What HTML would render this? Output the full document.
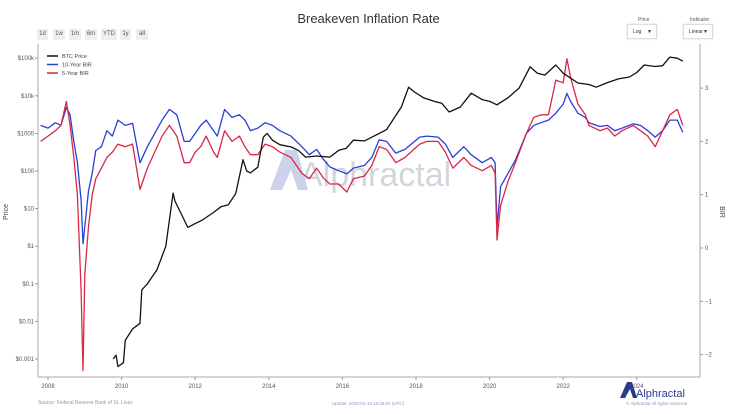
<!DOCTYPE html>
<html><head><meta charset="utf-8"><style>
body{margin:0;background:#fff;font-family:"Liberation Sans",sans-serif;}
#wrap{position:relative;width:737px;height:414px;overflow:hidden;background:#fff}
.btn{position:absolute;top:29px;height:11px;background:#eee;font-size:6px;color:#555;line-height:11px;text-align:center;border-radius:1px}
.sel{position:absolute;top:24px;width:30px;height:15px;border:1px solid #ddd;font-size:5px;line-height:15px;padding-left:5px;box-sizing:border-box;color:#333;box-shadow:0 0 2px #ddd}
.lab{position:absolute;font-size:5px;color:#555}
</style></head><body>
<div id="wrap">
<div style="position:absolute;left:0;width:737px;top:11px;text-align:center;font-size:13px;color:#333">Breakeven Inflation Rate</div>
<div class="btn" style="left:37px;width:11px">1d</div>
<div class="btn" style="left:53px;width:12px">1w</div>
<div class="btn" style="left:69px;width:12px">1m</div>
<div class="btn" style="left:85px;width:12px">6m</div>
<div class="btn" style="left:101px;width:16px">YTD</div>
<div class="btn" style="left:120px;width:11px">1y</div>
<div class="btn" style="left:136px;width:12px">all</div>
<div class="lab" style="left:638px;top:17px">Price</div>
<div class="sel" style="left:627px;">Log<span style="float:right;margin-right:4px">▼</span></div>
<div class="lab" style="left:690px;top:17px">Indicator</div>
<div class="sel" style="left:683px;">Linear<span style="float:right;margin-right:4px">▼</span></div>
<svg id="svg" width="737" height="414" style="position:absolute;left:0;top:0"></svg>
</div>
<script>
const btcYears=[2009.77,2009.85,2009.9,2010.05,2010.1,2010.3,2010.5,2010.55,2010.7,2010.96,2011.05,2011.2,2011.4,2011.45,2011.6,2011.8,2012.0,2012.2,2012.5,2012.7,2012.9,2013.1,2013.3,2013.4,2013.5,2013.7,2013.85,2013.95,2014.1,2014.3,2014.6,2014.8,2015.0,2015.3,2015.66,2015.9,2016.1,2016.3,2016.6,2016.9,2017.2,2017.4,2017.6,2017.8,2017.96,2018.2,2018.5,2018.7,2018.9,2019.2,2019.5,2019.8,2020.0,2020.2,2020.5,2020.8,2021.1,2021.3,2021.5,2021.8,2022.0,2022.4,2022.7,2022.9,2023.2,2023.5,2023.8,2024.0,2024.2,2024.5,2024.7,2024.9,2025.1,2025.25];
const btcPrice=[-3.0,-2.9,-3.2,-3.1,-2.5,-2.2,-2.05,-1.16,-1.0,-0.63,-0.4,0.0,1.41,1.2,0.9,0.5,0.6,0.7,0.9,1.05,1.1,1.4,2.3,2.0,1.95,2.1,2.9,3.0,2.82,2.7,2.64,2.55,2.37,2.4,2.37,2.55,2.6,2.82,2.8,2.95,3.1,3.4,3.7,4.23,4.1,3.95,3.85,3.8,3.57,3.7,4.07,3.9,3.85,3.76,3.95,4.2,4.77,4.6,4.55,4.82,4.6,4.34,4.3,4.23,4.35,4.45,4.5,4.62,4.82,4.78,4.8,5.03,5.0,4.92];
const birYears=[2007.8,2008.0,2008.2,2008.35,2008.5,2008.6,2008.7,2008.8,2008.9,2008.95,2009.0,2009.1,2009.2,2009.3,2009.45,2009.6,2009.75,2009.9,2010.1,2010.3,2010.5,2010.7,2010.9,2011.1,2011.3,2011.5,2011.7,2011.85,2012.0,2012.15,2012.3,2012.5,2012.6,2012.8,2013.0,2013.2,2013.35,2013.5,2013.7,2013.9,2014.1,2014.3,2014.6,2014.9,2015.1,2015.3,2015.5,2015.66,2015.9,2016.12,2016.3,2016.6,2016.8,2017.0,2017.2,2017.45,2017.7,2018.1,2018.3,2018.6,2018.8,2019.0,2019.3,2019.5,2019.8,2020.05,2020.15,2020.2,2020.3,2020.5,2020.7,2021.0,2021.2,2021.4,2021.6,2021.8,2022.0,2022.1,2022.2,2022.4,2022.6,2022.7,2023.0,2023.2,2023.4,2023.6,2023.9,2024.1,2024.3,2024.5,2024.7,2024.9,2025.1,2025.25];
const bir10=[2.3,2.25,2.35,2.3,2.64,2.5,2.0,1.6,0.9,0.08,0.4,1.07,1.4,1.83,1.9,2.2,2.1,2.4,2.3,2.34,1.6,1.9,2.15,2.4,2.6,2.5,2.0,2.0,2.15,2.3,2.4,2.2,2.1,2.6,2.45,2.5,2.4,2.2,2.25,2.35,2.3,2.2,2.1,1.9,1.75,1.85,1.65,1.52,1.45,1.39,1.5,1.55,1.7,2.03,2.0,1.78,1.85,2.08,2.1,2.08,1.95,1.7,1.9,1.75,1.6,1.7,1.6,0.4,1.15,1.4,1.65,2.15,2.3,2.35,2.4,2.53,2.7,2.9,2.75,2.53,2.45,2.35,2.28,2.3,2.2,2.25,2.33,2.3,2.2,2.08,2.2,2.4,2.4,2.17];
const bir5=[2.0,2.1,2.2,2.3,2.75,2.3,1.7,1.0,-0.8,-2.3,-0.5,0.4,1.0,1.3,1.5,1.7,1.8,1.95,1.9,1.95,1.1,1.5,1.8,2.1,2.3,2.1,1.6,1.6,1.8,1.9,2.1,1.8,1.7,2.2,2.0,2.1,1.9,1.75,1.75,1.95,1.9,1.8,1.7,1.4,1.3,1.5,1.3,1.2,1.2,1.05,1.3,1.35,1.55,1.9,1.85,1.6,1.7,1.95,2.0,2.0,1.8,1.5,1.7,1.55,1.45,1.55,1.4,0.15,0.8,1.25,1.6,2.15,2.45,2.5,2.5,3.15,3.1,3.55,3.2,2.7,2.5,2.3,2.2,2.25,2.1,2.2,2.3,2.2,2.1,1.9,2.2,2.5,2.6,2.3];
const priceTicks=["$0.001","$0.01","$0.1","$1","$10","$100","$1000","$10k","$100k"];
const birTicks=[-2,-1,0,1,2,3];
const yearTicks=[2008,2010,2012,2014,2016,2018,2020,2022,2024];
const L=38,R=700,T=44,B=377;
const xS=y=>48+(y-2008)*36.8;
const yL=lg=>359-(lg+3)*37.6;
const yR=v=>248-v*53.3;
const svg=document.getElementById('svg');const NS="http://www.w3.org/2000/svg";
function mk(tag,attrs,name){const e=document.createElementNS(NS,tag);for(const k in attrs)e.setAttribute(k,attrs[k]);


svg.appendChild(e);return e;}
let wm=mk('text',{x:300,y:186,'font-size':34,fill:'#d3d5dc','font-family':'Liberation Sans, sans-serif'},'watermark');wm.textContent='Alphractal';
mk('path',{d:'M270 190 L285 150 L297 150 L308 190 L298 190 L291 170 L282 190 Z',fill:'#cdd2ea'},'watermark-logo');
mk('line',{x1:L,y1:T,x2:L,y2:B,stroke:'#aaa','stroke-width':1},'left-axis-line');
mk('line',{x1:R,y1:T,x2:R,y2:B,stroke:'#aaa','stroke-width':1},'right-axis-line');
mk('line',{x1:L,y1:B,x2:R,y2:B,stroke:'#aaa','stroke-width':1},'x-axis-line');
priceTicks.forEach((t,i)=>{const y=yL(i-3);
mk('line',{x1:L-3,y1:y,x2:L,y2:y,stroke:'#999'},'y-left-tick');
let tx=mk('text',{x:L-4,y:y+2,'font-size':6,'text-anchor':'end',fill:'#555'},'y-left-tick-label');tx.textContent=t;});
birTicks.forEach(v=>{const y=yR(v);
mk('line',{x1:R,y1:y,x2:R+3,y2:y,stroke:'#999'},'y-right-tick');
let tx=mk('text',{x:R+5,y:y+2,'font-size':6,fill:'#555'},'y-right-tick-label');tx.textContent=v<0?'−'+(-v):v;});
yearTicks.forEach(yr=>{const x=xS(yr);
mk('line',{x1:x,y1:B,x2:x,y2:B+3,stroke:'#999'},'x-tick');
let tx=mk('text',{x:x,y:B+11,'font-size':6,'text-anchor':'middle',fill:'#555'},'x-tick-label');tx.textContent=yr;});
let yt=mk('text',{x:8,y:212,'font-size':7,fill:'#444',transform:'rotate(-90 8 212)','text-anchor':'middle'},'y-left-title');yt.textContent='Price';
let yt2=mk('text',{x:720,y:212,'font-size':7,fill:'#444',transform:'rotate(90 720 212)','text-anchor':'middle'},'y-right-title');yt2.textContent='BIR';
function line(xs,vs,ys,color,name){mk('path',{d:xs.map((x,i)=>(i?'L':'M')+xS(x).toFixed(1)+' '+ys(vs[i]).toFixed(1)).join(' '),fill:'none',stroke:color,'stroke-width':1.3,'stroke-linejoin':'round'},name);}
line(birYears,bir10,yR,'#2b3fd6','series-10-year-bir');
line(birYears,bir5,yR,'#d8284a','series-5-year-bir');
line(btcYears,btcPrice,yL,'#111','series-btc-price');
[['BTC Price','#111'],['10-Year BIR','#2b3fd6'],['5-Year BIR','#d8284a']].forEach((e,i)=>{const y=56+i*8.5;
mk('line',{x1:47,y1:y,x2:58,y2:y,stroke:e[1],'stroke-width':1.5},'legend-swatch');
let t=mk('text',{x:62,y:y+2,'font-size':5.5,fill:'#444'},'legend-entry');t.textContent=e[0];});
let s=mk('text',{x:38,y:404,'font-size':5,fill:'#8a9ab8'},'source-note');s.textContent='Source: Federal Reserve Bank of St. Louis';
let u=mk('text',{x:368,y:405,'font-size':4.5,fill:'#8a9ab8','text-anchor':'middle'},'update-note');u.textContent='Update: 2025-04-19 16:09:04 (UTC)';
mk('path',{d:'M620 398 L627 382 L632 382 L637 398 L633 398 L630 389 L625 398 Z',fill:'#2d3a8c'},'alphractal-logo');
let a=mk('text',{x:636,y:397,'font-size':11,fill:'#2d3a8c'},'alphractal-brand');a.textContent='Alphractal';
let c=mk('text',{x:626,y:405,'font-size':4.5,fill:'#8a9ab8'},'copyright');c.textContent='© Alphractal All rights reserved';
</script>
</body></html>
